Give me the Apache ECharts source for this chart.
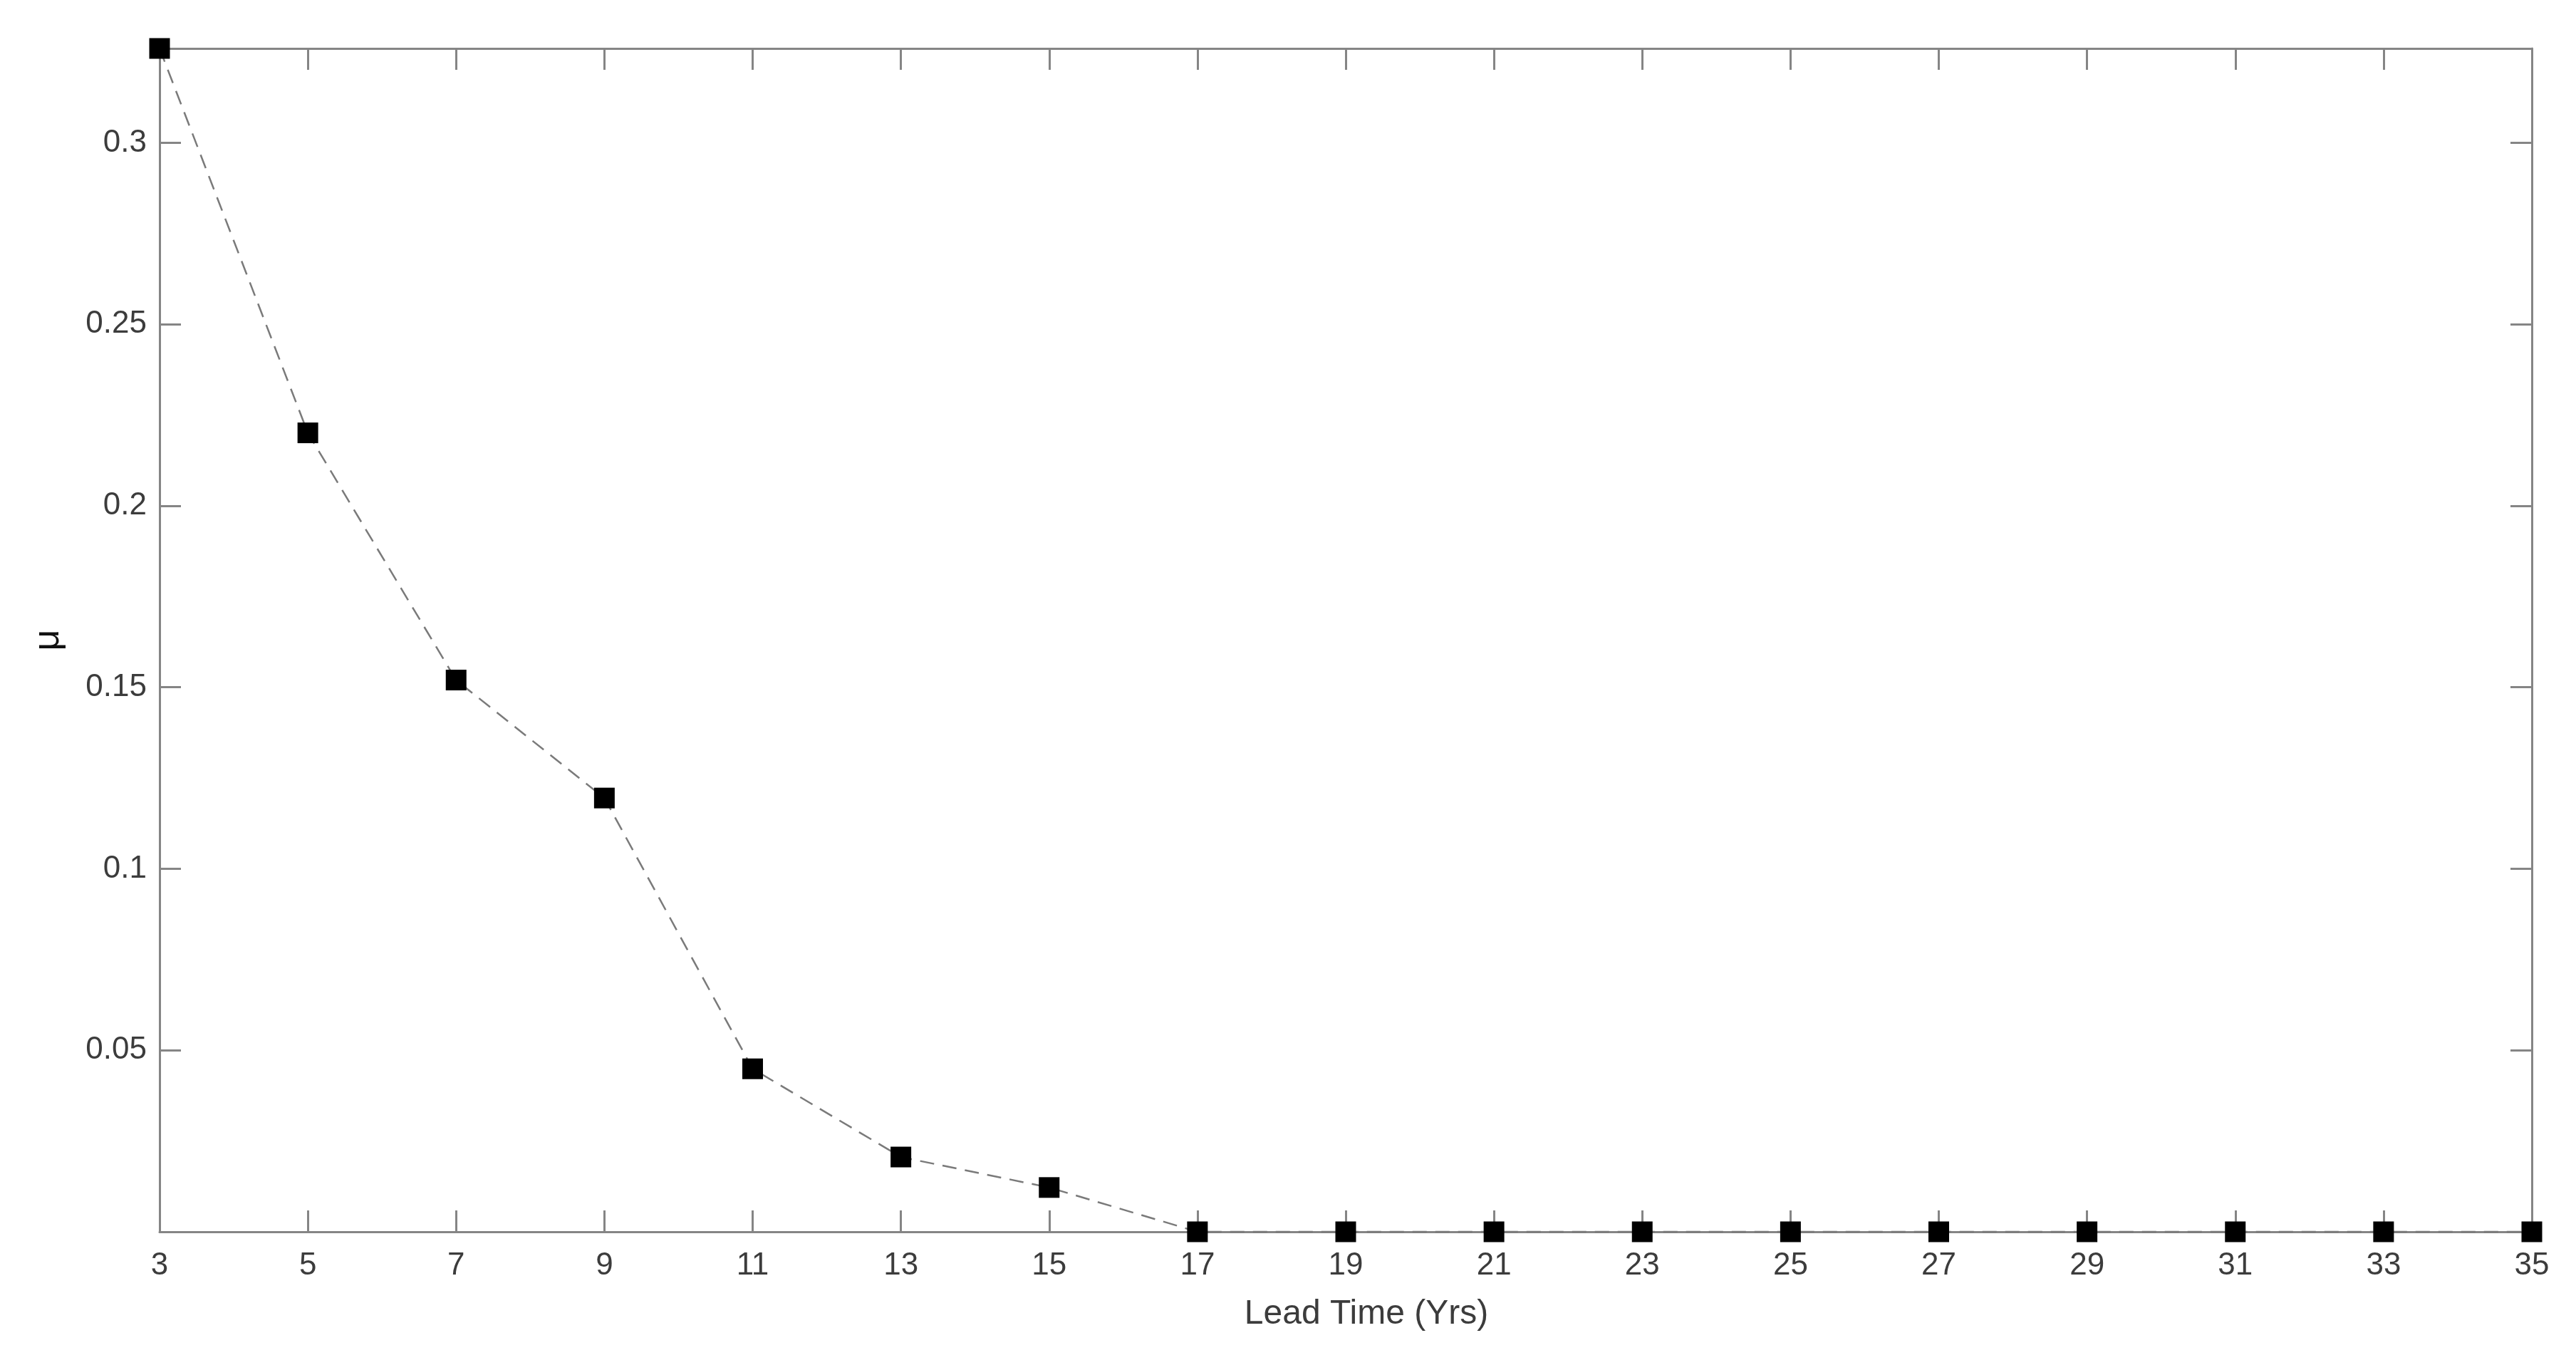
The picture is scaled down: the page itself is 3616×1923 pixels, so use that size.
<!DOCTYPE html>
<html>
<head>
<meta charset="utf-8">
<script src="https://cdn.jsdelivr.net/npm/echarts@6/dist/echarts.min.js"></script>
<style>
html,body{margin:0;padding:0;background:#fff;}
#chart{width:3616px;height:1923px;}
</style>
</head>
<body>
<div id="chart"></div>
<script>
const leadTimes = ['3','5','7','9','11','13','15','17','19','21','23','25','27','29','31','33','35'];
const muValues = [0.326, 0.2201, 0.1520, 0.1195, 0.0449, 0.0206, 0.0122, 0, 0, 0, 0, 0, 0, 0, 0, 0, 0];
const yTicks = { min: 0, max: 0.326, interval: 0.05 };
const xTitle = 'Lead Time (Yrs)';
const yTitle = 'μ';

const axisColor = '#858585';
const textColor = '#3c3c3c';
const font = '"Liberation Sans", Arial, Helvetica, sans-serif';

const chart = echarts.init(document.getElementById('chart'), null, {renderer: 'canvas'});
const yLabelFmt = v => {
  if (v <= 0 || v > 0.31) return '';
  return String(parseFloat(v.toFixed(2)));
};
chart.setOption({
  animation: false,
  backgroundColor: '#ffffff',
  grid: { left: 224, right: 62, top: 68, bottom: 194, containLabel: false },
  xAxis: [
    {
      type: 'category', data: leadTimes, boundaryGap: false, position: 'bottom',
      axisLine: { show: true, onZero: false, lineStyle: { color: axisColor, width: 3 } },
      axisTick: { show: true, inside: true, length: 30, lineStyle: { color: axisColor, width: 3 }, alignWithLabel: true },
      axisLabel: { show: true, color: textColor, fontSize: 44, fontFamily: font, margin: 26, interval: 0 },
      splitLine: { show: false },
      name: xTitle, nameLocation: 'middle', nameGap: 92,
      nameTextStyle: { color: textColor, fontSize: 48, fontFamily: font, padding: [0, 0, 0, 58] }
    },
    {
      type: 'category', data: leadTimes, boundaryGap: false, position: 'top',
      axisLine: { show: true, onZero: false, lineStyle: { color: axisColor, width: 3 } },
      axisTick: { show: true, inside: true, length: 30, lineStyle: { color: axisColor, width: 3 } },
      axisLabel: { show: false }, splitLine: { show: false }
    }
  ],
  yAxis: [
    {
      type: 'value', min: yTicks.min, max: yTicks.max, interval: yTicks.interval, position: 'left',
      axisLine: { show: true, onZero: false, lineStyle: { color: axisColor, width: 3 } },
      axisTick: { show: true, inside: true, length: 30, lineStyle: { color: axisColor, width: 3 } },
      axisLabel: { show: true, color: textColor, fontSize: 44, fontFamily: font, margin: 18, formatter: yLabelFmt,
                   showMinLabel: false, showMaxLabel: false },
      splitLine: { show: false },
      name: yTitle, nameLocation: 'middle', nameGap: 130, nameRotate: 90,
      nameTextStyle: { color: '#111', fontSize: 52, fontFamily: font }
    },
    {
      type: 'value', min: yTicks.min, max: yTicks.max, interval: yTicks.interval, position: 'right',
      axisLine: { show: true, onZero: false, lineStyle: { color: axisColor, width: 3 } },
      axisTick: { show: true, inside: true, length: 30, lineStyle: { color: axisColor, width: 3 } },
      axisLabel: { show: false }, splitLine: { show: false }
    }
  ],
  series: [
    {
      type: 'line', data: muValues, xAxisIndex: 0, yAxisIndex: 0,
      symbol: 'rect', symbolSize: 29,
      itemStyle: { color: '#000000', borderColor: '#000000', borderWidth: 0 },
      lineStyle: { color: '#7a7a7a', width: 2.5, type: [20, 12] },
      clip: false, z: 3
    }
  ]
});
</script>
</body>
</html>
